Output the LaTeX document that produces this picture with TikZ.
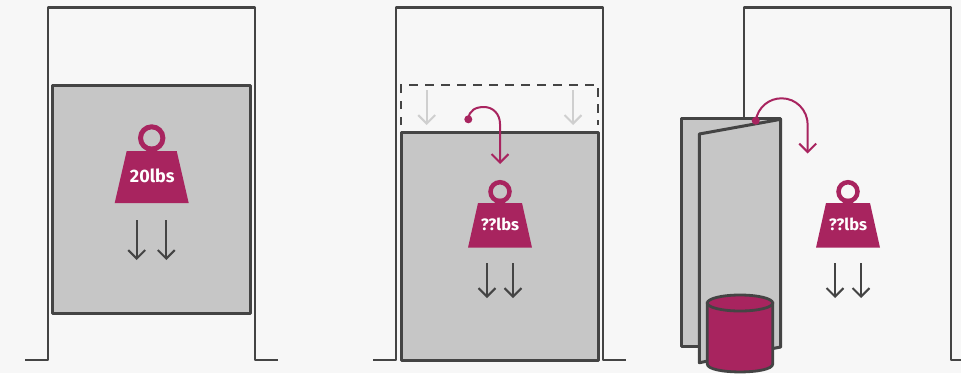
\documentclass[tikz,border=0pt]{standalone}
\usepackage{fontspec}
\setmainfont{Fira Sans}
\usetikzlibrary{arrows.meta}
\definecolor{bgc}{HTML}{F7F7F7}
\definecolor{mag}{HTML}{A8245F}
\definecolor{doorc}{HTML}{C6C6C6}
\definecolor{ink}{HTML}{444444}
\definecolor{faint}{HTML}{CFCFCF}
\tikzset{
  framew/.style={draw=ink,line width=2.9pt,line join=round},
  door/.style={draw=ink,fill=doorc,line width=3pt,line join=round},
  dashdoor/.style={draw=ink,line width=2.2pt,dash pattern=on 8.5pt off 7.5pt},
  force/.style={draw=ink,line width=2pt,-{Straight Barb[length=8.5pt,width=17pt,line width=2pt]}},
  ghost/.style={force,draw=faint},
  swing/.style={draw=mag,line width=2pt,-{Straight Barb[length=8.5pt,width=17pt,line width=2pt]}},
  pivot/.style={circle,fill=mag,inner sep=0pt,minimum size=8pt},
  wlabel/.style={text=white,font=\fontsize{18}{18}\selectfont\bfseries,inner sep=0pt},
  wlabelb/.style={text=white,font=\fontsize{16.5}{16.5}\selectfont\bfseries,inner sep=0pt},
}
% #1 cx, #2 ring cy, #3 ring r, #4 ring width, #5 top y, #6 bottom y, #7 top half, #8 bottom half
\newcommand{\kettle}[8]{%
  \draw[mag,line width=#4pt] (#1,#2) circle[radius=#3pt];
  \fill[mag] (#1-5.5,#5+0.5) -- (#1-4,#5-4.5) -- (#1+4,#5-4.5) -- (#1+5.5,#5+0.5) -- cycle;
  \fill[mag] (#1-#7,#5) -- (#1+#7,#5) -- (#1+#8,#6) -- (#1-#8,#6) -- cycle;
}
\begin{document}
\begin{tikzpicture}[x=1pt,y=-1pt]
\useasboundingbox (0,0) rectangle (961,373);
\fill[bgc] (0,0) rectangle (961,373);

% panel 1
\draw[framew] (25,360) -- (48,360) -- (48,7.5) -- (255,7.5) -- (255,360) -- (278,360);
\draw[door] (52.7,85) rectangle (250,313);
\kettle{151.7}{138}{11.2}{5}{151}{203}{25}{37}
\node[wlabel] (w1) at (152.3,176) {20lbs};
\coordinate (a1s) at (136.7,220); \coordinate (a1e) at (136.7,260);
\coordinate (a2s) at (166.3,220); \coordinate (a2e) at (166.3,260);
\draw[force] (a1s) -- (a1e);
\draw[force] (a2s) -- (a2e);

% panel 2
\draw[framew] (373,360) -- (396,360) -- (396,7.5) -- (603,7.5) -- (603,360) -- (626,360);
\draw[dashdoor] (401,125) -- (401,85) -- (598,85) -- (598,125);
\draw[door] (401,132) rectangle (598,360);
\coordinate (g1s) at (426.7,90); \coordinate (g1e) at (426.7,125);
\coordinate (g2s) at (573,90); \coordinate (g2e) at (573,125);
\draw[ghost] (g1s) -- (g1e);
\draw[ghost] (g2s) -- (g2e);
\node[pivot] (p2) at (468.3,119.3) {};
\coordinate (s2e) at (500,164);
\draw[swing] (p2.center) .. controls (469,110) and (476,107) .. (484,107) .. controls (493,107) and (500,114) .. (500,124) -- (s2e);
\kettle{500}{191.7}{9.5}{4.5}{203}{247.7}{22}{32}
\node[wlabelb] (w2) at (500,224.7) {??lbs};
\coordinate (b1s) at (487,263); \coordinate (b1e) at (487,298);
\coordinate (b2s) at (513,263); \coordinate (b2e) at (513,298);
\draw[force] (b1s) -- (b1e);
\draw[force] (b2s) -- (b2e);

% panel 3
\draw[framew] (744,118) -- (744,7.5) -- (951,7.5) -- (951,360) -- (961,360);
\draw[door] (681.7,118) rectangle (780.7,346.7);
\draw[door] (699.3,134) -- (780.7,119.3) -- (780.7,347) -- (699.3,362.7) -- cycle;
\draw[ink,fill=mag,line width=2.8pt] (707.3,303) -- (707.3,364) .. controls (707.3,374.6) and (772.7,374.6) .. (772.7,364) -- (772.7,303) -- cycle;
\draw[ink,fill=mag,line width=2.8pt] (740,303) ellipse[x radius=32.7pt,y radius=8pt];
\node[pivot] (p3) at (755.7,120.7) {};
\coordinate (s3e) at (807.7,153.5);
\draw[swing] (p3.center) .. controls (758,107) and (769,98.3) .. (781.7,98.3) .. controls (796,98.3) and (807.7,110) .. (807.7,125) -- (s3e);
\kettle{848}{191.7}{9.5}{4.5}{203}{247.7}{22}{32}
\node[wlabelb] (w3) at (848,224.7) {??lbs};
\coordinate (c1s) at (835,263); \coordinate (c1e) at (835,298);
\coordinate (c2s) at (861,263); \coordinate (c2e) at (861,298);
\draw[force] (c1s) -- (c1e);
\draw[force] (c2s) -- (c2e);
\end{tikzpicture}
\end{document}
